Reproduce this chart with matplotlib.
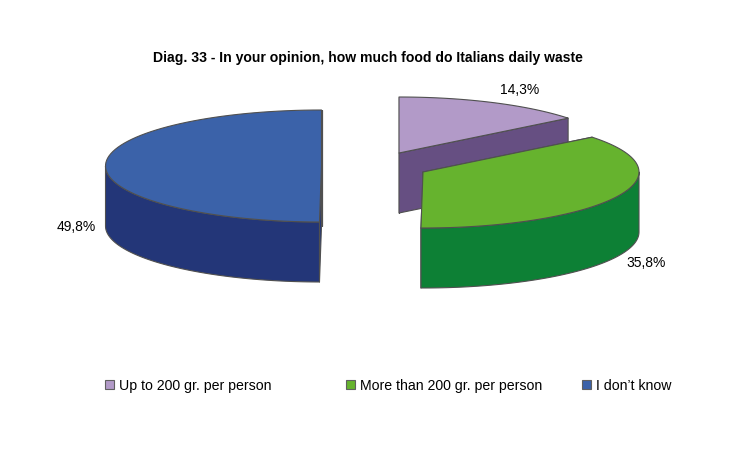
"""Exploded 3D-look pie: Diag. 33, food waste opinion."""

import matplotlib

matplotlib.use("Agg")
import matplotlib.pyplot as plt                                  # noqa: E402
import numpy as np                                               # noqa: E402
from matplotlib.patches import Polygon, Rectangle                # noqa: E402

plt.rcParams["font.family"] = ["Liberation Sans", "DejaVu Sans"]

TITLE = "Diag. 33 - In your opinion, how much food do Italians daily waste"
categories = ["Up to 200 gr. per person", "More than 200 gr. per person", "I don\u2019t know"]
values = [14.3, 35.8, 49.8]
top_colors = ["#B29AC8", "#66B32E", "#3B62A9"]
wall_colors = ["#664F82", "#0D8035", "#233678"]

# layout, in pixels of the 734x451 canvas
centers = [(399, 153), (423, 172), (321.5, 166)]
label_pos = [(519.5, 94), (646, 267), (76, 231)]
legend_x = [105, 346, 582]
RX, RY, DEPTH = 216, 56, 60
EDGE = "#505050"


def rim(cx, cy, a0, a1, n=80):
    """Points of the ellipse arc, angles clockwise from 12 o'clock."""
    t = np.radians(np.linspace(a0, a1, n))
    return np.column_stack([cx + RX * np.sin(t), cy - RY * np.cos(t)])


def face(cx, cy, a):
    """Cut face of a slice at angle a, extruded downwards."""
    e = rim(cx, cy, a, a, 1)[0]
    return [(cx, cy), tuple(e), (e[0], e[1] + DEPTH), (cx, cy + DEPTH)]


fig = plt.figure(figsize=(7.34, 4.51), dpi=100)
ax = fig.add_axes([0, 0, 1, 1])
ax.set_xlim(0, 734)
ax.set_ylim(451, 0)
ax.axis("off")

shares = np.array(values) / sum(values) * 360
starts = np.concatenate([[0], np.cumsum(shares)[:-1]])

for (cx, cy), a0, da, top, wall in zip(centers, starts, shares, top_colors, wall_colors):
    a1 = a0 + da
    kw = dict(closed=True, edgecolor=EDGE, linewidth=0.8, joinstyle="round")
    for a in (a0, a1):
        ax.add_patch(Polygon(face(cx, cy, a), facecolor=wall, **kw))
    lo, hi = max(a0, 90), min(a1, 270)
    if lo < hi:  # outer wall only shows on the front half
        arc = rim(cx, cy, lo, hi)
        low = arc[::-1] + [0, DEPTH]
        ax.add_patch(Polygon(np.vstack([arc, low]), facecolor=wall, **kw))
    ax.add_patch(Polygon(np.vstack([[(cx, cy)], rim(cx, cy, a0, a1)]), facecolor=top, **kw))

ax.text(367.5, 62, TITLE, ha="center", va="baseline", fontsize=10.05, fontweight="bold", color="black")

for (x, y), v in zip(label_pos, values):
    ax.text(x, y, f"{v:.1f}%".replace(".", ","), ha="center", va="baseline", fontsize=10, color="black")

for x, name, color in zip(legend_x, categories, top_colors):
    ax.add_patch(Rectangle((x, 380), 9, 9, facecolor=color, edgecolor="#606060", linewidth=0.8))
    ax.text(x + 14, 390, name, ha="left", va="baseline", fontsize=10.15, color="black")

fig.savefig("out.png", dpi=100, facecolor="white")
